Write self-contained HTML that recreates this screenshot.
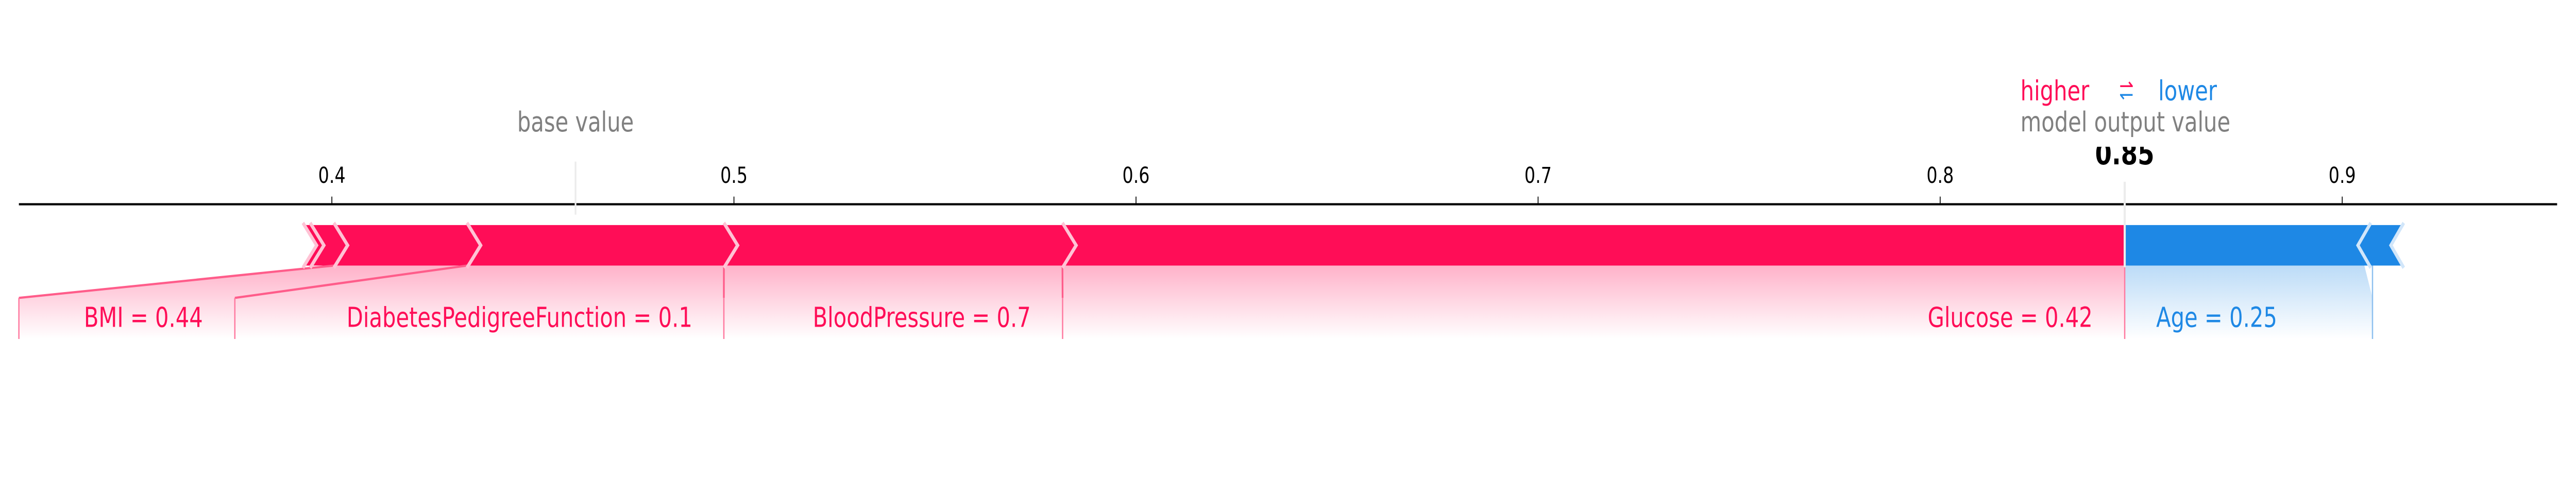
<!DOCTYPE html>
<html><head><meta charset="utf-8"><style>
html,body{margin:0;padding:0;background:#fff;}
svg{position:absolute;left:0;top:0;display:block;width:100vw;height:106.3vh;font-family:"DejaVu Sans","Liberation Sans",sans-serif;}
</style></head><body>
<svg id="chart" viewBox="0 0 6000 900" preserveAspectRatio="none" xmlns="http://www.w3.org/2000/svg">
<defs>
<linearGradient id="gRed" x1="0" y1="0" x2="0" y2="1">
<stop offset="0" stop-color="#ff0d57" stop-opacity="0.32"/>
<stop offset="1" stop-color="#ff0d57" stop-opacity="0"/>
</linearGradient>
<linearGradient id="gBlue" x1="0" y1="0" x2="0" y2="1">
<stop offset="0" stop-color="#1e88e5" stop-opacity="0.3"/>
<stop offset="1" stop-color="#1e88e5" stop-opacity="0"/>
</linearGradient>
</defs>
</svg>
<script>
const tickValues=[0.4,0.5,0.6,0.7,0.8,0.9];
const tickLabels=["0.4","0.5","0.6","0.7","0.8","0.9"];
const outputValue=0.8459;
const baseValue=0.4606;
const redNames=["","","BMI","DiabetesPedigreeFunction","BloodPressure","Glucose"];
const redValues=[0.0018,0.0059,0.0331,0.0639,0.0842,0.2642];
const redLabels=["","","BMI = 0.44","DiabetesPedigreeFunction = 0.1","BloodPressure = 0.7","Glucose = 0.42"];
const blueNames=["Age",""];
const blueValues=[0.0596,0.0082];
const blueLabels=["Age = 0.25",""];

const NS="http://www.w3.org/2000/svg";
const svg=document.getElementById('chart');
function x(v){return 773+(v-0.4)*9365;}
const barTop=411,barBot=485,barMid=448,H=32,labTop=544,labBot=619;
function mk(tag,attrs,parent){const e=document.createElementNS(NS,tag);for(const k in attrs)e.setAttribute(k,attrs[k]);(parent||svg).appendChild(e);return e;}

let ax=mk('line',{x1:44,x2:5956,y1:373,y2:373,stroke:'#000','stroke-width':4});


tickValues.forEach((v,i)=>{
  const t=mk('line',{x1:x(v),x2:x(v),y1:359,y2:373,stroke:'#000','stroke-width':2});
  
  
  const l=mk('text',{x:x(v),y:334,'text-anchor':'middle','font-size':40,fill:'#000'});
  l.textContent=tickLabels[i];
  
  
});

let bl=mk('line',{x1:x(baseValue),x2:x(baseValue),y1:295,y2:392,stroke:'#ececec','stroke-width':4});


let bt=mk('text',{x:x(baseValue),y:240,'text-anchor':'middle','font-size':50,fill:'#808080'});
bt.textContent='base value';



const redSum=redValues.reduce((a,b)=>a+b,0);
let cur=outputValue-redSum;
const redBoxes=[[44,547],[547,1686],[1686,2475],[2475,null]];
const redTextX=[334,1210,2147,4682];
let li=0;
const redSegs=[];
redValues.forEach((v,i)=>{
  const a=x(cur),b=x(cur+v);cur+=v;redSegs.push([a,b]);
  const last=i===redValues.length-1;
  const pts=[[a,barTop],[b,barTop],[last?b:b+H,barMid],[b,barBot],[a,barBot],[a+H,barMid]];
  const p=mk('polygon',{points:pts.map(q=>q.join(',')).join(' '),fill:'#ff0d57'});
  
  
});
redValues.forEach((v,i)=>{
  if(!redNames[i])return;
  const [a,b]=redSegs[i];
  const box=redBoxes[li];const L=box[0],R=box[1]===null?b:box[1];
  const poly=mk('polygon',{points:`${a},${barBot} ${b},${barBot} ${R},${labTop} ${R},${labBot} ${L},${labBot} ${L},${labTop}`,fill:'url(#gRed)'});
  
  
  const d=mk('line',{x1:a,y1:barBot,x2:L,y2:labTop,stroke:'#ff5c8a','stroke-width':4});
  
  
  const vl=mk('line',{x1:L,y1:labTop,x2:L,y2:labBot,stroke:'#ff7aa0','stroke-width':3});
  
  
  const t=mk('text',{x:redTextX[li],y:597,'text-anchor':'middle','font-size':50,fill:'#ff0d57'});
  t.textContent=redLabels[i];
  
  
  li++;
});
redSegs.forEach((s,i)=>{
  if(i===redSegs.length-1)return;
  const b=s[0];
  const pl=mk('polyline',{points:`${b},${barTop-4} ${b+H},${barMid} ${b},${barBot+4}`,fill:'none',stroke:'#ffc3d5','stroke-width':7});
  
  
});
redSegs.slice(0,-1).forEach((s,i)=>{
  const b=s[1];
  const pl=mk('polyline',{points:`${b},${barTop-4} ${b+H},${barMid} ${b},${barBot+4}`,fill:'none',stroke:'#ffc3d5','stroke-width':7});
  
  
});

cur=outputValue;
const blueSegs=[];
blueValues.forEach((v,i)=>{
  const a=x(cur),b=x(cur+v);cur+=v;blueSegs.push([a,b]);
  const first=i===0;
  const pts=[[a+(first?0:15),barTop],[b+15,barTop],[b-15,barMid],[b+15,barBot],[a+(first?0:15),barBot],[first?a:a-15,barMid]];
  const p=mk('polygon',{points:pts.map(q=>q.join(',')).join(' '),fill:'#1e88e5'});
  
  
});
blueSegs.forEach((s,i)=>{
  const b=s[1];
  const pl=mk('polyline',{points:`${b+15},${barTop-4} ${b-15},${barMid} ${b+15},${barBot+4}`,fill:'none',stroke:'#d1e6fa','stroke-width':7});
  
  
});
{
  const [a,b]=blueSegs[0];const R=b+19;
  const poly=mk('polygon',{points:`${a},${barBot} ${b},${barBot} ${R},${labTop} ${R},${labBot} ${a},${labBot}`,fill:'url(#gBlue)'});
  
  
  const vl=mk('line',{x1:R,y1:barBot,x2:R,y2:labBot,stroke:'#8ec0ef','stroke-width':3});
  
  
  const vl2=mk('line',{x1:a,y1:barBot,x2:a,y2:labBot,stroke:'#ff7aa0','stroke-width':3});
  
  
  const t=mk('text',{x:5163,y:597,'text-anchor':'middle','font-size':50,fill:'#1e88e5'});
  t.textContent=blueLabels[0];
  
  
}

let ol=mk('line',{x1:x(outputValue),x2:x(outputValue),y1:332,y2:488,stroke:'#ececec','stroke-width':5});


let ov=mk('text',{x:x(outputValue),y:300,'text-anchor':'middle','font-size':56,'font-weight':'bold',fill:'#000'});
ov.textContent=outputValue.toFixed(2);


let wr=mk('rect',{x:4700,y:200,width:520,height:68,fill:'#fff'});


let mo=mk('text',{x:4706,y:240,'font-size':50,fill:'#808080'});
mo.textContent='model output value';


let hi=mk('text',{x:4706,y:183,'font-size':50,fill:'#ff0d57'});
hi.textContent='higher';


let ar1=mk('text',{x:4936,y:170,'font-size':40,fill:'#ff0d57'});
ar1.textContent='\u21c0';


let ar2=mk('text',{x:4936,y:186,'font-size':40,fill:'#1e88e5'});
ar2.textContent='\u21bd';


let lo=mk('text',{x:5027,y:183,'font-size':50,fill:'#1e88e5'});
lo.textContent='lower';


</script>
</body></html>
